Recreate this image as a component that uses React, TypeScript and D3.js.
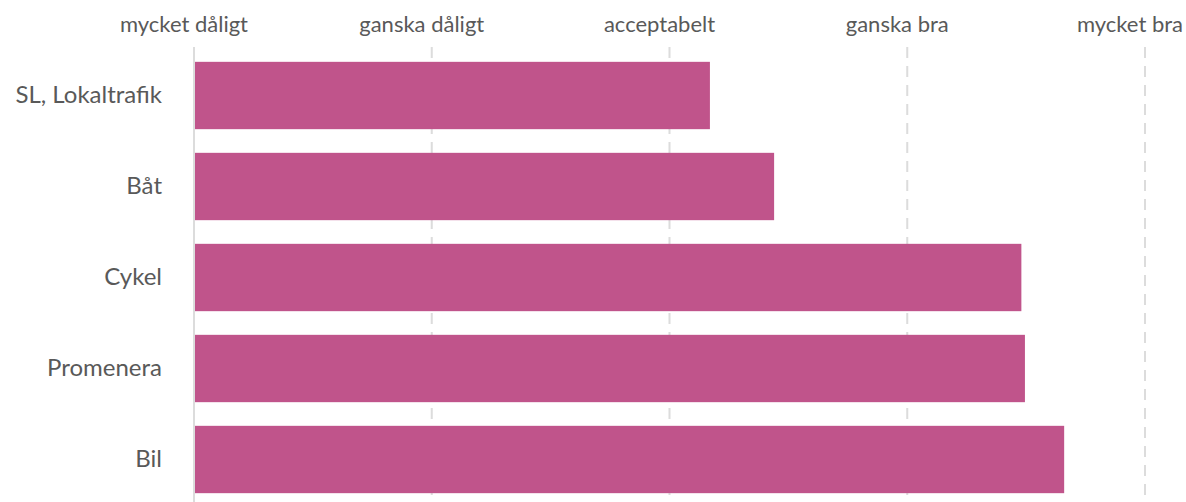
import React from "react";
import * as d3 from "d3";

const categories = ["SL, Lokaltrafik", "Båt", "Cykel", "Promenera", "Bil"];
const values = [3.17, 3.44, 4.48, 4.495, 4.66];
const tickValues = [1, 2, 3, 4, 5];
const tickLabels = ["mycket dåligt", "ganska dåligt", "acceptabelt", "ganska bra", "mycket bra"];

const W = 1186;
const H = 502;

export default function App() {
  const x = d3.scaleLinear().domain([1, 5]).range([194, 1145]);
  const y = d3
    .scaleBand<string>()
    .domain(categories)
    .range([50, 505])
    .paddingInner(0.26)
    .paddingOuter(0.13);
  const font = "Lato, 'Open Sans', sans-serif";
  const textColor = "#595959";
  return (
    <svg
      width={W}
      height={H}
      style={{ position: "absolute", left: 0, top: 0, background: "#fff" }}
    >
      {tickValues.map((t, i) => {
        const last = i === tickValues.length - 1;
        return (
          <g key={t}>
            <line
              x1={x(t)}
              x2={x(t)}
              y1={47}
              y2={H}
              stroke="#dcdcdc"
              strokeWidth={2}
              strokeDasharray={i === 0 ? undefined : "11 8"}
            />
            <text
              x={last ? W - 3 : x(t) - 10}
              y={26}
              textAnchor={last ? "end" : "middle"}
              dominantBaseline="middle"
              fontFamily={font}
              fontSize={22}
              fill={textColor}
            >
              {tickLabels[i]}
            </text>
          </g>
        );
      })}
      {categories.map((c, i) => (
        <g key={c}>
          <rect
            x={x(1) + 1}
            y={y(c)}
            width={x(values[i]) - x(1) - 1}
            height={y.bandwidth()}
            fill="#c0548b"
          />
          <text
            x={162}
            y={(y(c) as number) + y.bandwidth() / 2 + 1}
            textAnchor="end"
            dominantBaseline="middle"
            fontFamily={font}
            fontSize={24}
            fill={textColor}
          >
            {c}
          </text>
        </g>
      ))}
    </svg>
  );
}
